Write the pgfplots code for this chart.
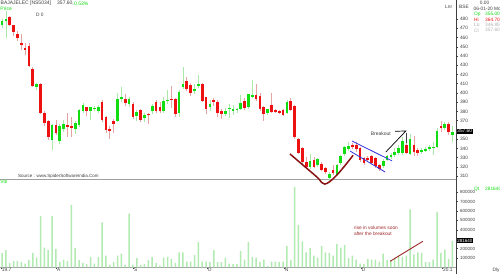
\documentclass[border=0pt]{standalone}
\usepackage{fontspec}
\setmainfont{Liberation Sans}
\usepackage{pgfplots}
\usepackage{pgfplotstable}
\pgfplotsset{compat=1.18}

\definecolor{cgreen}{HTML}{11DD11}
\definecolor{cred}{HTML}{EE1111}
\definecolor{wgreen}{HTML}{A8E8A8}
\definecolor{wred}{HTML}{E4A4A4}
\definecolor{volg}{HTML}{B2EBB2}
\definecolor{cupred}{HTML}{8B1010}
\definecolor{chblue}{HTML}{3535E0}
\definecolor{axgray}{HTML}{A0A0A0}
\definecolor{txtgray}{HTML}{404040}
\definecolor{lbl}{HTML}{B0B0B0}
\definecolor{annred}{HTML}{A02828}

\pgfplotstableread{
i O H L C
0 473 480 470 478
1 478 489 459 480
9 406 411 403 409.5
13 349 366 338 365.6
15 347.6 366 345 364.2
16 361.3 371 358 366.4
19 361.3 370 356 367
20 365 383 363 381.5
21 380 389 378 387.3
23 380.8 385 371 384.4
24 383 386 380 384
25 380 387 378 385
30 370 400 368 393.8
31 393.1 406 390 395.3
33 388 396 385 393.1
35 375 381 370 379.3
37 372.9 378 368 375.8
39 380.1 388 377 385.8
42 380.1 396 378 391.6
43 390.9 403 388 392.3
46 378 403 374 401
47 406.8 428 404 409.7
50 401.8 410 399 404.6
51 407.5 419 405 409.7
54 385 392 380 388
58 377.2 384 375 380.1
59 382.5 388 373 383.7
60 380.1 387 376 382.9
61 381.5 384 378 382.2
62 382.9 398 381 388.8
64 385 399 383 398.8
65 395.9 414 394 398.1
69 378.6 383 376 382.2
74 378 392 377 390.2
80 320.1 334 318 325.9
82 321.6 330 320 328
85 308 314 305 312.2
87 311.4 323 310 321.6
88 323.8 333 322 331.2
89 333.9 343 332 341.1
90 339.6 347 337 342.6
99 320.5 328 319 326
100 327.4 333 326 331.6
101 330.3 335 329 332.5
102 332.5 340 331 336
103 334.6 344 333 340
104 334.6 352 333 348
106 334 356 333 350
109 336 340 334 338.5
110 337 341 336 339.5
111 339 344 337 341.5
112 341 347 333 342
113 342 362 340 359
115 362 369 360 366
117 355 364.7 346.85 357.6
}\greentab

\pgfplotstableread{
i O H L C
2 482 483 472 473
3 473 474 462 466
4 464 467 456 459
5 454 464 447 452
6 449 454 441 447
7 451 454 428 429
8 426 428 406 407.5
10 409.7 411 377 378
11 378.6 380 364 367.8
12 369.3 371 349 352
14 365 371 355 356.3
17 365 378 352.7 362.8
18 364.2 374 352 362
22 384.4 385 375 380.8
26 390.2 392 368 370.7
27 373.6 375 357 359.9
28 360.6 364.2 350.5 358.5
29 369.3 372 357 366.4
32 393.8 399 386 388.8
34 388 390 372 374.3
36 381.5 383 368 370.7
38 377.2 378 366 375.8
40 390.2 392 378 380.8
41 385 390 378 380.1
44 393.8 407 384 392.3
45 393.1 395 374 377.2
48 412.6 417 402 404
49 408.9 411 397 400.2
52 409.7 411 390 391.6
53 395.3 396 377 382.9
55 392.3 394 386 390.2
56 390.2 392 374 378.6
57 380.8 383 372 377.2
63 391.6 394 381 383.7
66 398.1 410 391 393.1
67 396.7 400 380 382.9
68 385 386 370 377.2
70 386.5 399.6 378 379.3
71 381.5 383 378 379.3
72 380.8 382 377 378.6
73 381.5 383 375 376.4
75 391.6 395 380 381.5
76 385.8 387 350 352.6
77 350.5 351 334 335.3
78 340.4 341 323 325.2
79 325.2 331 318 320.1
81 327.4 331 319 320.1
83 323 325 315 316.6
84 318.7 320 312 314.3
86 316.6 322 311 313
91 344 346 339 341.1
92 343.3 347 336 339
93 340.4 342 325 327.4
94 329.1 331 322 324.3
95 330 332 325 327
96 331.6 333 322 324.3
97 329.1 331 319 320.5
98 321.6 323 315 318
105 344 350 334 335
107 344 353 332 336
108 338 340 332 335.5
114 364 370 358 362
116 366 368 355 357.5
}\redtab

\pgfplotstableread{
i V
0 153000
1 182000
2 47000
3 68000
4 68000
5 54000
6 40000
7 76000
8 153000
9 104000
10 545000
11 211000
12 182000
13 545000
14 196000
15 54000
16 82000
17 68000
18 665000
19 204000
20 76000
21 47000
22 33000
23 111000
24 40000
25 111000
26 480000
27 125000
28 26000
29 54000
30 125000
31 146000
32 26000
33 573000
34 26000
35 97000
36 26000
37 33000
38 76000
39 111000
40 47000
41 19000
42 104000
43 111000
44 90000
45 47000
46 160000
47 160000
48 61000
49 61000
50 132000
51 267000
52 61000
53 61000
54 54000
55 182000
56 54000
57 54000
58 104000
59 40000
60 33000
61 33000
62 175000
63 82000
64 267000
65 111000
66 104000
67 54000
68 82000
69 12000
70 61000
71 61000
72 54000
73 61000
74 225000
75 76000
76 857000
77 452000
78 275000
79 160000
80 204000
81 125000
82 104000
83 225000
84 160000
85 153000
86 125000
87 246000
88 211000
89 239000
90 97000
91 125000
92 82000
93 40000
94 33000
95 90000
96 82000
97 82000
98 61000
99 146000
100 76000
101 76000
102 104000
103 125000
104 111000
105 125000
106 616000
107 139000
108 160000
109 153000
110 54000
111 54000
112 82000
113 587000
114 153000
115 189000
116 90000
117 281640
}\voltab

\newcommand{\fs}[1]{\fontsize{#1}{#1}\selectfont}

\pgfplotsset{
  candle/.style 2 args={draw=none, mark=none, forget plot,
    error bars/.cd, y dir=plus, y explicit, error mark=none,
    error bar style={draw=#1, line width=#2}},
}

\begin{document}
\begin{tikzpicture}[x=1pt,y=1pt]
\useasboundingbox (0,0) rectangle (500,274);
\fill[white] (0,0) rectangle (500,274);

% ---------------- price panel ----------------
\begin{axis}[
  at={(0pt,94.7pt)}, anchor=south west,
  width=456pt, height=179.3pt, scale only axis,
  xmin=-0.52, xmax=117.92, ymin=306.5, ymax=500.6,
  axis x line*=bottom, axis y line*=right,
  x axis line style={axgray, line width=1pt},
  y axis line style={txtgray, line width=0.6pt},
  xtick=\empty,
  ytick={310,320,330,340,350,370,380,...,480},
  extra y ticks={360}, extra y tick labels={},
  tick align=outside, major tick length=2pt,
  tick style={txtgray, line width=0.4pt},
  yticklabel style={font=\fs{4.8}, text=txtgray, xshift=-1.5pt},
  /pgf/number format/assume math mode=true,
  clip=false,
]
% wicks
\addplot[candle={wgreen}{0.7pt}]
  table[x=i, y=L, y error plus expr=\thisrow{H}-\thisrow{L}] {\greentab};
\addplot[candle={wred}{0.7pt}]
  table[x=i, y=L, y error plus expr=\thisrow{H}-\thisrow{L}] {\redtab};
% bodies
\addplot[candle={cgreen}{2.7pt}]
  table[x=i, y=O, y error plus expr=\thisrow{C}-\thisrow{O}] {\greentab};
\addplot[candle={cred}{2.7pt}]
  table[x=i, y=C, y error plus expr=\thisrow{O}-\thisrow{C}] {\redtab};

% annotations
\draw[cupred, line width=1.5pt] plot[smooth, tension=0.6] coordinates
  {(axis cs:74.8,333.9) (axis cs:81.7,309.3) (axis cs:83.8,301.3) (axis cs:86.9,310.8) (axis cs:91.2,332.5)};
\draw[chblue, line width=0.8pt] (axis cs:90.9,348.0) -- (axis cs:101.3,326.4);
\draw[chblue, line width=0.8pt] (axis cs:90.4,337.1) -- (axis cs:99.5,314.4);
\draw[black, line width=0.7pt] (axis cs:99.7,336.1) -- (axis cs:104.9,358.8) -- (axis cs:102.1,358.5);
\draw[darkgray, line width=1.4pt] (axis cs:105.1,356.3) -- (axis cs:105.1,345.8);
\node[font=\fs{5}, text=txtgray] at (axis cs:98.4,355.5) {Breakout};
\end{axis}

% ---------------- volume panel ----------------
\begin{axis}[
  at={(0pt,6.7pt)}, anchor=south west,
  width=456pt, height=86.8pt, scale only axis,
  xmin=-0.52, xmax=117.92, ymin=0, ymax=925000,
  axis x line*=bottom, axis y line*=right,
  x axis line style={axgray, line width=0.8pt},
  y axis line style={txtgray, line width=0.6pt},
  xtick={-0.3,14,34,53.2,73.2,93.2,114.3},
  xticklabels={19.7,A,S,O,N,D,20.1},
  xticklabel style={font=\fs{4.8}, text=txtgray, anchor=north west, inner sep=0.3pt, xshift=0.6pt, yshift=1.2pt},
  ytick={100000,200000,400000,500000,600000,700000,800000},
  extra y ticks={300000}, extra y tick labels={},
  scaled y ticks=false,
  yticklabel style={font=\fs{4.5}, text=txtgray, xshift=-1.5pt,
    /pgf/number format/fixed, /pgf/number format/1000 sep={}},
  /pgf/number format/assume math mode=true,
  tick align=outside, major tick length=2pt,
  tick style={txtgray, line width=0.4pt},
  clip=false,
]
\addplot[ybar, bar width=1.5pt, fill=volg, draw=none] table[x=i, y=V] {\voltab};
\draw[annred, line width=0.9pt] (axis cs:100.8,64000) -- (axis cs:109.3,277000);
\node[font=\fs{4.8}, text=annred, anchor=north west, align=left, inner sep=0pt] at (axis cs:91.4,440000)
  {rise in volumes soon\\[1.2pt]after the breakout};
\end{axis}

% full-height right axis line
\draw[txtgray, line width=0.6pt] (456,0) -- (456,274);

% header texts
\node[font=\fs{5}, text=txtgray, anchor=west, inner sep=0pt] at (0.5,270.6) {BAJAJELEC [NS5034]};
\node[font=\fs{5}, text=txtgray, anchor=west, inner sep=0pt] at (57,270.6) {357.60,};
\node[font=\fs{5}, text=cgreen, anchor=west, inner sep=0pt] at (74,270.6) {0.53\%};
\node[font=\fs{5}, text=cgreen, anchor=west, inner sep=0pt] at (0.3,265) {Price};
\node[font=\fs{4.8}, text=txtgray, anchor=west, inner sep=0pt] at (36,259) {D 0};
\node[font=\fs{4.5}, text=txtgray, anchor=west, inner sep=0pt] at (18,97.5) {Source : www.SpiderSoftwareIndia.Com};
\node[font=\fs{5}, text=cgreen, anchor=west, inner sep=0pt] at (0.3,92) {Vol};

% right readout
\node[font=\fs{4.8}, text=txtgray, anchor=west, inner sep=0pt] at (445,267.3) {Lnr};
\node[font=\fs{4.8}, text=txtgray, anchor=west, inner sep=0pt] at (459,267.3) {BSE};
\node[font=\fs{4.8}, text=txtgray, inner sep=0pt] at (484.5,270.7) {0.00};
\node[font=\fs{4.8}, text=txtgray, anchor=west, inner sep=0pt] at (473.5,264.7) {06-01-20 Mo};
\node[font=\fs{4.8}, text=cgreen, anchor=west, inner sep=0pt] at (474,259.7) {Op};
\node[font=\fs{4.8}, text=cgreen, anchor=west, inner sep=0pt] at (485,259.7) {355.00};
\node[font=\fs{4.8}, text=cred, anchor=west, inner sep=0pt] at (474,254.2) {Hi};
\node[font=\fs{4.8}, text=cred, anchor=west, inner sep=0pt] at (485,254.2) {364.70};
\node[font=\fs{4.8}, text=lbl, anchor=west, inner sep=0pt] at (474,248.9) {Lo};
\node[font=\fs{4.8}, text=lbl, anchor=west, inner sep=0pt] at (485,248.9) {346.85};
\node[font=\fs{4.8}, text=lbl, anchor=west, inner sep=0pt] at (474,243.7) {Cl};
\node[font=\fs{4.8}, text=lbl, anchor=west, inner sep=0pt] at (485,243.7) {357.60};
\node[font=\fs{4.8}, text=cgreen, anchor=west, inner sep=0pt] at (474,84.7) {Qt};
\node[font=\fs{4.8}, text=cgreen, anchor=west, inner sep=0pt] at (485,84.7) {281640};
\node[font=\fs{4.8}, text=txtgray, anchor=west, inner sep=0pt] at (492.5,4) {Dly};

% last value boxes
\node[font=\fs{4.8}, fill=black, text=white, anchor=west, inner sep=0.9pt] at (456.3,142.7) {357.60};
\node[font=\fs{4.5}, fill=black, text=white, anchor=west, inner sep=0.9pt] at (456.3,33.5) {281640};
\end{tikzpicture}
\end{document}
